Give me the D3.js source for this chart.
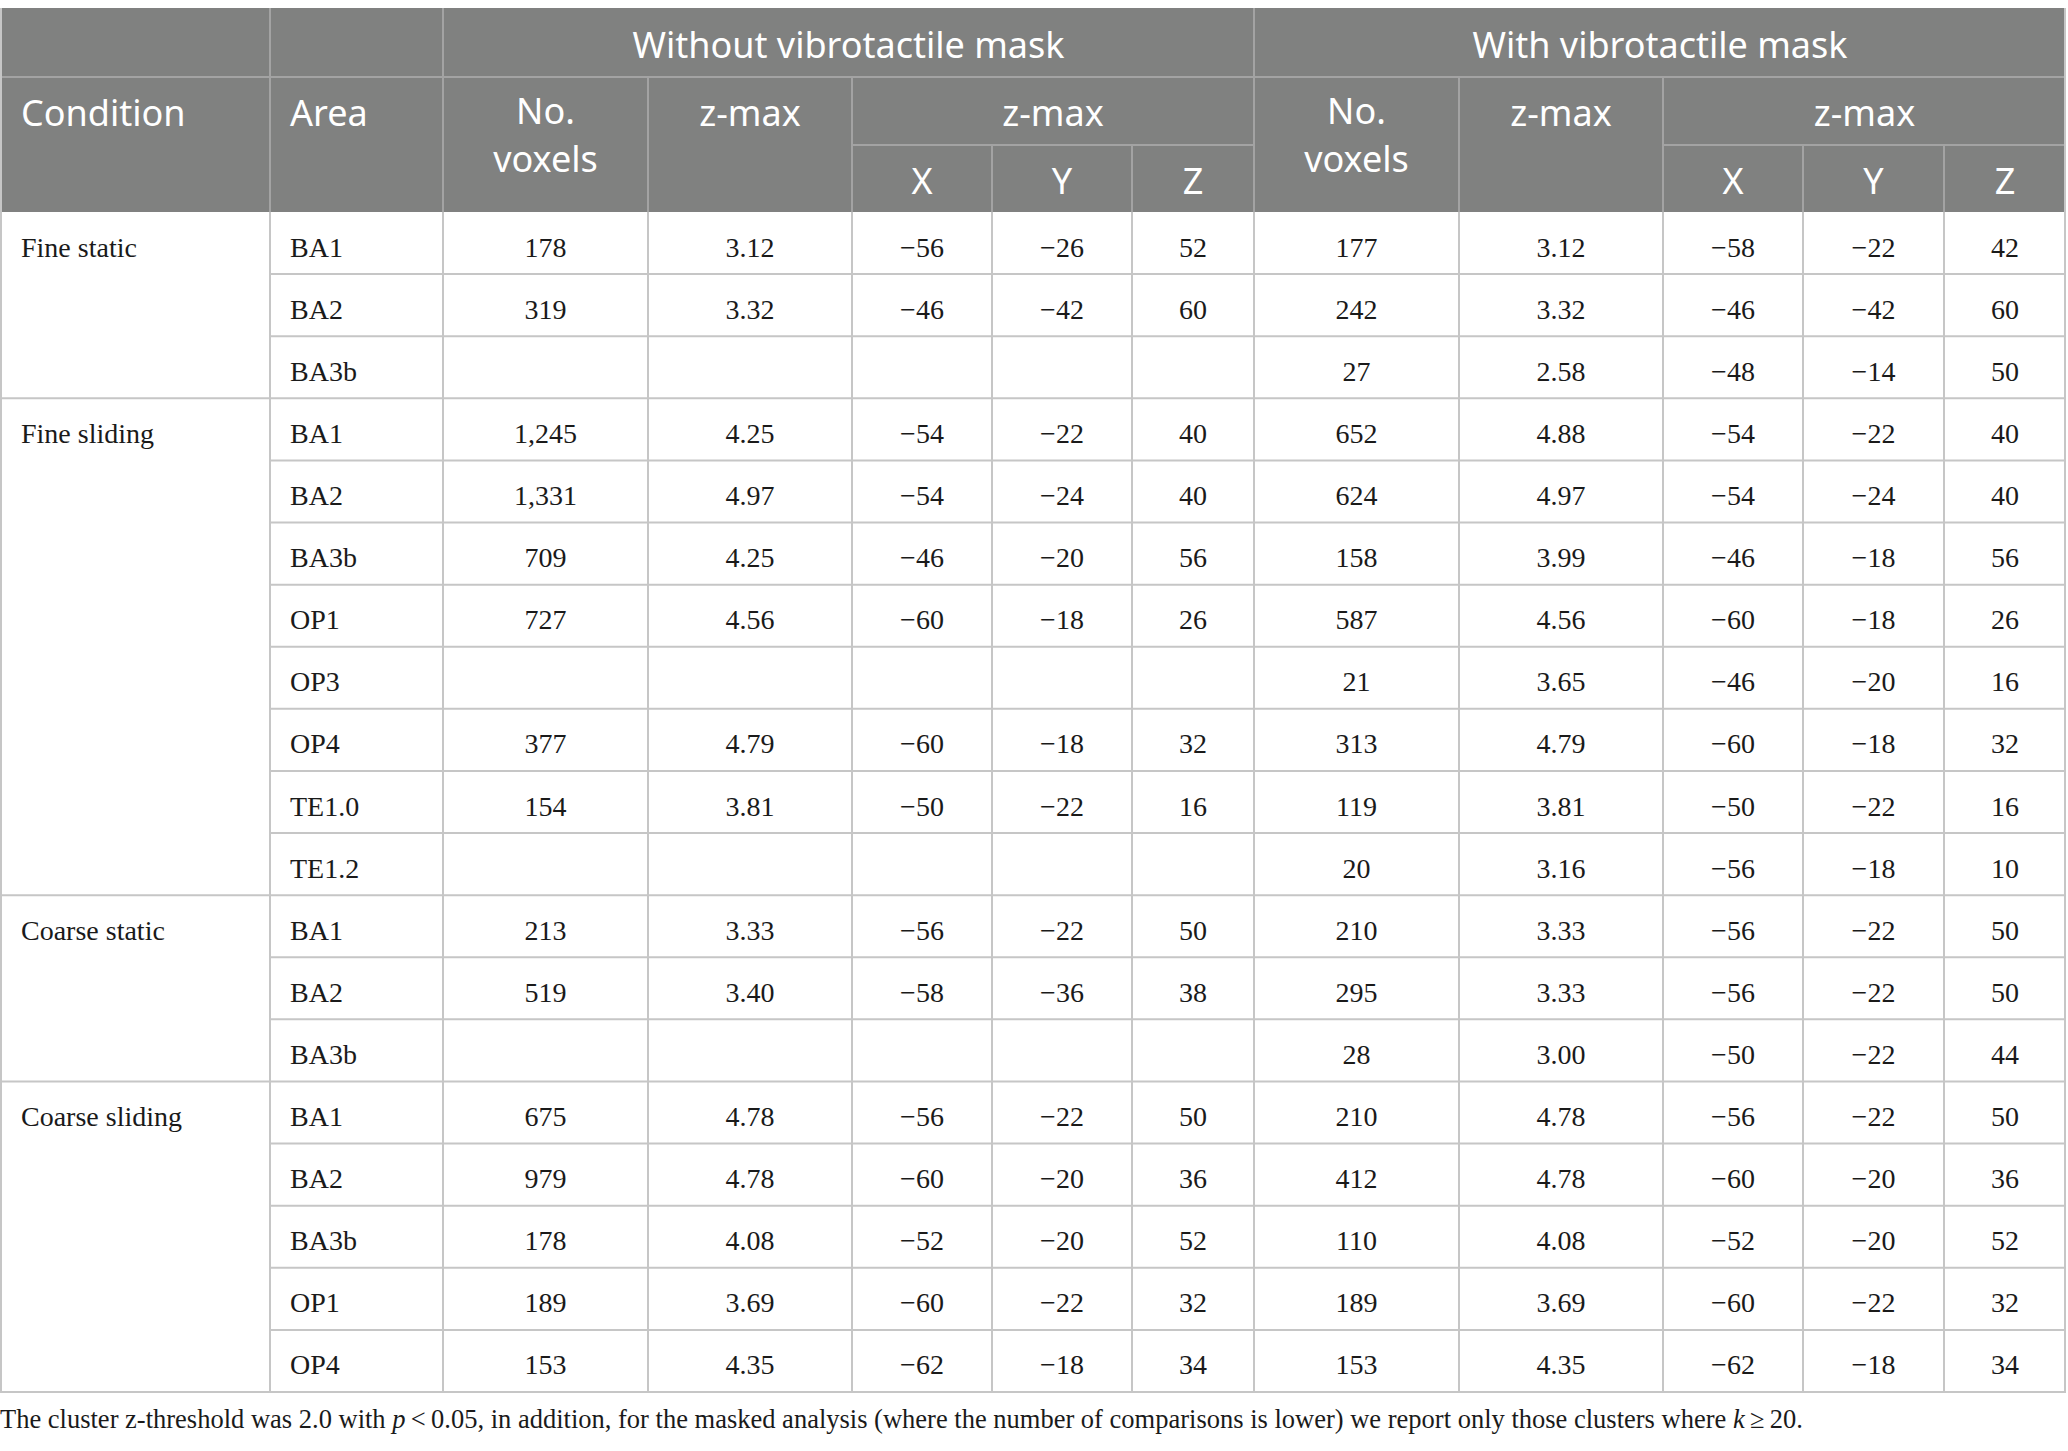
<!DOCTYPE html>
<html>
<head>
<meta charset="utf-8">
<script src="https://cdn.jsdelivr.net/npm/d3@7"></script>
<style>
body{margin:0;background:#fff;}
</style>
</head>
<body>
<div id="chart"></div>
<script>
// table data
var conditions = ["Fine static","Fine sliding","Coarse static","Coarse sliding"];
var groupSizes = [3, 8, 3, 5];
var areas = ["BA1","BA2","BA3b",
			"BA1","BA2","BA3b","OP1","OP3","OP4","TE1.0","TE1.2",
			"BA1","BA2","BA3b",
			"BA1","BA2","BA3b","OP1","OP4"];
var voxelsNoMask = ["178","319","",
			"1,245","1,331","709","727","","377","154","",
			"213","519","",
			"675","979","178","189","153"];
var zmaxNoMask = ["3.12","3.32","",
			"4.25","4.97","4.25","4.56","","4.79","3.81","",
			"3.33","3.40","",
			"4.78","4.78","4.08","3.69","4.35"];
var xNoMask = [-56,-46,null, -54,-54,-46,-60,null,-60,-50,null, -56,-58,null, -56,-60,-52,-60,-62];
var yNoMask = [-26,-42,null, -22,-24,-20,-18,null,-18,-22,null, -22,-36,null, -22,-20,-20,-22,-18];
var zNoMask = [52,60,null, 40,40,56,26,null,32,16,null, 50,38,null, 50,36,52,32,34];
var voxelsMask = ["177","242","27",
			"652","624","158","587","21","313","119","20",
			"210","295","28",
			"210","412","110","189","153"];
var zmaxMask = ["3.12","3.32","2.58",
			"4.88","4.97","3.99","4.56","3.65","4.79","3.81","3.16",
			"3.33","3.33","3.00",
			"4.78","4.78","4.08","3.69","4.35"];
var xMask = [-58,-46,-48, -54,-54,-46,-60,-46,-60,-50,-56, -56,-56,-50, -56,-60,-52,-60,-62];
var yMask = [-22,-42,-14, -22,-24,-18,-18,-20,-18,-22,-18, -22,-22,-22, -22,-20,-20,-22,-18];
var zMask = [42,60,50, 40,40,56,26,16,32,16,10, 50,50,44, 50,36,52,32,34];

var W = 2068, H = 1451;
var colEdges = [0, 270, 443, 648, 852, 992, 1132, 1254, 1459, 1663, 1803, 1944, 2066];
var headTop = 8, head1 = 77, headSub = 145, headBot = 212, bodyBot = 1392;
var headFill = "#808180", headLine = "#a3a3a3", bodyLine = "#c6c6c6";

var svg = d3.select("#chart").append("svg").attr("width", W).attr("height", H);

var nRows = areas.length;
var y = d3.scaleBand().domain(d3.range(nRows)).range([headBot, bodyBot]);

function fmt(v){
	if (v === null) return "";
	return v < 0 ? "\u2212" + Math.abs(v) : "" + v;
}
function mid(c){ return (colEdges[c] + colEdges[c+1]) / 2; }

// header background
svg.append("rect").attr("x", 0).attr("y", headTop).attr("width", colEdges[12]).attr("height", headBot - headTop)
	.style("fill", headFill);

var hl = svg.append("g").style("stroke", headLine).style("stroke-width", 2);
// header horizontal lines
hl.append("line").attr("x1", 0).attr("x2", colEdges[12]).attr("y1", head1).attr("y2", head1);
hl.append("line").attr("x1", colEdges[4]).attr("x2", colEdges[7]).attr("y1", headSub).attr("y2", headSub);
hl.append("line").attr("x1", colEdges[9]).attr("x2", colEdges[12]).attr("y1", headSub).attr("y2", headSub);
// header vertical lines
[1,2,7].forEach(function(c){
	hl.append("line").attr("x1", colEdges[c]).attr("x2", colEdges[c]).attr("y1", headTop).attr("y2", headBot);
});
[3,4,8,9].forEach(function(c){
	hl.append("line").attr("x1", colEdges[c]).attr("x2", colEdges[c]).attr("y1", head1).attr("y2", headBot);
});
[5,6,10,11].forEach(function(c){
	hl.append("line").attr("x1", colEdges[c]).attr("x2", colEdges[c]).attr("y1", headSub).attr("y2", headBot);
});

var ht = svg.append("g").style("fill", "#fff").style("font-family", "'Noto Sans', 'Open Sans', sans-serif")
	.style("font-size", "36px").attr("dominant-baseline", "central");
function headText(x, yy, s, anchor){
	ht.append("text").attr("x", x).attr("y", yy).attr("text-anchor", anchor || "middle").text(s);
}
headText((colEdges[2] + colEdges[7]) / 2, 44, "Without vibrotactile mask");
headText((colEdges[7] + colEdges[12]) / 2, 44, "With vibrotactile mask");
headText(21, 112, "Condition", "start");
headText(colEdges[1] + 20, 112, "Area", "start");
[2, 7].forEach(function(c){
	headText(mid(c), 110, "No.");
	headText(mid(c), 158, "voxels");
	headText(mid(c + 1), 112, "z-max");
	headText((colEdges[c + 2] + colEdges[c + 5]) / 2, 112, "z-max");
	headText(mid(c + 2), 180, "X");
	headText(mid(c + 3), 180, "Y");
	headText(mid(c + 4), 180, "Z");
});

// body grid
var bl = svg.append("g").style("stroke", bodyLine).style("stroke-width", 2);
var groupStart = [];
var acc = 0;
groupSizes.forEach(function(n){ groupStart.push(acc); acc += n; });
d3.range(nRows).forEach(function(i){
	var yb = y(i) + y.bandwidth();
	var isGroupEnd = groupStart.indexOf(i + 1) >= 0 || i === nRows - 1;
	bl.append("line").attr("x1", isGroupEnd ? 0 : colEdges[1]).attr("x2", colEdges[12])
		.attr("y1", yb).attr("y2", yb);
});
colEdges.forEach(function(xe, c){
	var xx = c === 0 ? 1 : (c === 12 ? colEdges[12] - 1 : xe);
	bl.append("line").attr("x1", xx).attr("x2", xx).attr("y1", headBot).attr("y2", bodyBot);
});
bl.append("line").attr("x1", 1).attr("x2", 1).attr("y1", headTop).attr("y2", headBot);
bl.append("line").attr("x1", colEdges[12] - 1).attr("x2", colEdges[12] - 1).attr("y1", headTop).attr("y2", headBot);

// body text
var bt = svg.append("g").style("fill", "#1a1a1a").style("font-family", "'Liberation Serif', 'DejaVu Serif', serif")
	.style("font-size", "28px").attr("dominant-baseline", "central");
var dy = 4;

conditions.forEach(function(c, g){
	bt.append("text").attr("x", 21).attr("y", y(groupStart[g]) + y.bandwidth() / 2 + dy).text(c);
});

var cols = [null, areas, voxelsNoMask, zmaxNoMask, xNoMask, yNoMask, zNoMask,
			voxelsMask, zmaxMask, xMask, yMask, zMask];
cols.forEach(function(arr, c){
	if (!arr) return;
	bt.selectAll(null).data(arr).enter().append("text")
		.attr("x", c === 1 ? colEdges[1] + 20 : mid(c))
		.attr("y", function(d, i){ return y(i) + y.bandwidth() / 2 + dy; })
		.attr("text-anchor", c === 1 ? "start" : "middle")
		.text(function(d){ return typeof d === "number" || d === null ? fmt(d) : d; });
});

// footnote
var foot = svg.append("text").attr("x", 0).attr("y", 1419).attr("dominant-baseline", "central")
	.style("font-family", "'Liberation Serif', 'DejaVu Serif', serif").style("font-size", "26.5px").style("fill", "#1a1a1a");
foot.append("tspan").text("The cluster z-threshold was 2.0 with ");
foot.append("tspan").style("font-style", "italic").text("p");
foot.append("tspan").text("\u2009<\u20090.05, in addition, for the masked analysis (where the number of comparisons is lower) we report only those clusters where ");
foot.append("tspan").style("font-style", "italic").text("k");
foot.append("tspan").text("\u2009\u2265\u200920.");
</script>
</body>
</html>
